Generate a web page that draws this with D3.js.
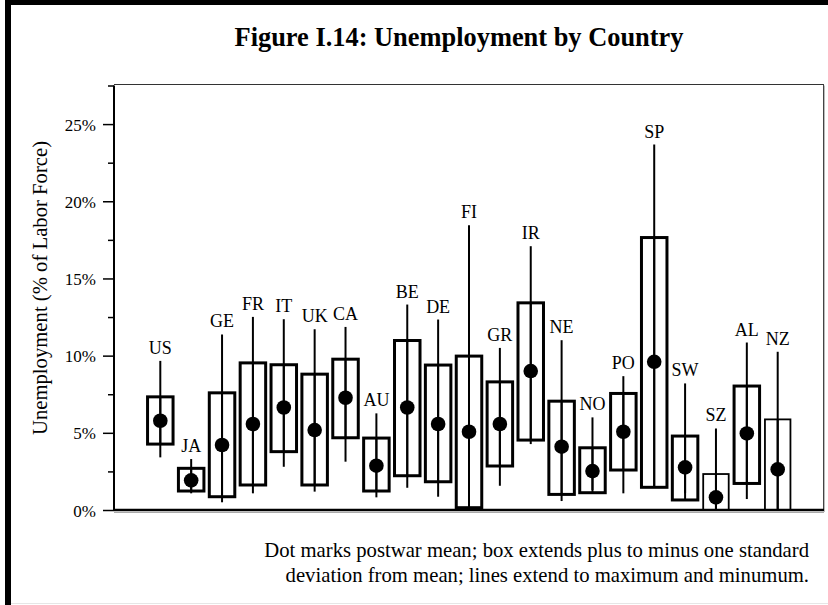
<!DOCTYPE html>
<html>
<head>
<meta charset="utf-8">
<script src="https://cdn.jsdelivr.net/npm/d3@7"></script>
<style>
  html, body { margin: 0; padding: 0; background: #fff; }
  svg { display: block; }
  text { font-family: "Liberation Serif", "Times New Roman", serif; fill: #000; }
</style>
</head>
<body>
<script>
// ---- data ----
const countries = ["US","JA","GE","FR","IT","UK","CA","AU","BE","DE","FI","GR","IR","NE","NO","PO","SP","SW","SZ","AL","NZ"];
const means   = [5.78,1.92,4.21,5.57,6.64,5.18,7.27,2.87,6.64,5.57,5.07,5.57,9.00,4.10,2.52,5.07,9.60,2.76,0.82,4.96,2.63];
const boxHigh = [7.33,2.70,7.59,9.53,9.41,8.80,9.77,4.66,10.98,9.39,9.97,8.30,13.42,7.05,4.03,7.55,17.65,4.79,2.33,8.03,5.87];
const boxLow  = [4.27,1.23,0.86,1.62,3.78,1.62,4.68,1.23,2.22,1.83,0.15,2.85,4.53,1.01,1.12,2.59,1.47,0.65,-0.69,1.72,-0.61];
const maxima  = [9.66,3.30,11.37,12.51,12.36,11.71,11.86,6.26,13.31,12.34,18.45,10.50,17.09,11.00,6.00,8.67,23.67,8.20,5.28,10.85,10.25];
const minima  = [3.41,1.08,0.50,1.08,2.80,1.19,3.13,0.82,1.44,0.86,0.50,1.57,4.27,0.58,1.29,1.08,1.47,1.08,0.00,0.71,0.00];
const majorTicks = [0,5,10,15,20,25];
const minorTicks = [2.5,7.5,12.5,17.5,22.5,27.5];
const titleText = "Figure I.14: Unemployment by Country";
const yTitle = "Unemployment (% of Labor Force)";
const noteLines = ["Dot marks postwar mean; box extends plus to minus one standard",
                   "deviation from mean; lines extend to maximum and minumum."];

const rows = countries.map((c,i)=>({c, mean:means[i], hi:boxHigh[i], lo:boxLow[i], max:maxima[i], min:minima[i]}));

const W = 828, H = 605;
const L = 114, R = 824, T = 84.5, B = 510;

const svg = d3.select("body").append("svg").attr("width", W).attr("height", H);

// outer frame
svg.append("rect").attr("x",0).attr("y",0).attr("width",W).attr("height",H).attr("fill","#fff");
svg.append("rect").attr("x",5).attr("y",0).attr("width",6).attr("height",H).attr("fill","#000");
svg.append("rect").attr("x",5).attr("y",0).attr("width",W-5).attr("height",5).attr("fill","#000");
svg.append("line").attr("x1",11).attr("x2",W).attr("y1",603.5).attr("y2",603.5).attr("stroke","#e6e6e6").attr("stroke-width",1);

const x = d3.scalePoint().domain(countries).range([L, R]).padding(1.5);
const y = d3.scaleLinear().domain([0, 27.5]).range([B, 85.5]);
const yc = v => y(Math.max(0, v));
const boxW = 25.5;

// title
svg.append("text").attr("x", 459).attr("y", 46).attr("text-anchor","middle")
  .attr("font-weight","bold").attr("font-size", 26.4).text(titleText);

// plot frame (top & right)
svg.append("line").attr("x1",L).attr("x2",R).attr("y1",T).attr("y2",T).attr("stroke","#333").attr("stroke-width",1);
svg.append("line").attr("x1",R-0.5).attr("x2",R-0.5).attr("y1",T).attr("y2",B).attr("stroke","#444").attr("stroke-width",1);
svg.append("line").attr("x1",R+0.5).attr("x2",R+0.5).attr("y1",T+1).attr("y2",B+2).attr("stroke","#bbb").attr("stroke-width",1);

// y axis
const yAxisMajor = d3.axisLeft(y).tickValues(majorTicks).tickSize(11).tickPadding(7).tickFormat(d => d + "%");
const gY = svg.append("g").attr("transform", `translate(${L},0)`).call(yAxisMajor);
gY.select(".domain").remove();
gY.selectAll(".tick line").attr("stroke","#000").attr("stroke-width",1.5);
gY.selectAll(".tick text").attr("font-family","Liberation Serif").attr("font-size",17).attr("fill","#000").attr("dy","0.36em");
const gYm = svg.append("g").attr("transform", `translate(${L},0)`)
  .call(d3.axisLeft(y).tickValues(minorTicks).tickSize(6).tickFormat(""));
gYm.select(".domain").remove();
gYm.selectAll(".tick line").attr("stroke","#000").attr("stroke-width",1.5);
svg.append("line").attr("x1",L).attr("x2",L).attr("y1",y(27.5)).attr("y2",B+1).attr("stroke","#000").attr("stroke-width",2);

// y title
svg.append("text").attr("transform", `translate(47,288) rotate(-90)`).attr("text-anchor","middle")
  .attr("font-size",20.7).text(yTitle);

// boxes
const g = svg.append("g");
const grp = g.selectAll("g.item").data(rows).join("g").attr("class","item");
grp.append("line")
  .attr("x1", d=>x(d.c)).attr("x2", d=>x(d.c))
  .attr("y1", d=>yc(d.max)).attr("y2", d=>yc(d.min))
  .attr("stroke","#000").attr("stroke-width",2);
grp.append("rect")
  .attr("x", d=>x(d.c)-boxW/2).attr("width", boxW)
  .attr("y", d=>yc(d.hi)).attr("height", d=>yc(d.lo)-yc(d.hi))
  .attr("fill","none").attr("stroke","#000")
  .attr("stroke-width", d => d.lo < 0 ? 1.8 : 3);
grp.append("line")
  .attr("x1", d=>x(d.c)).attr("x2", d=>x(d.c))
  .attr("y1", d=>yc(d.hi)).attr("y2", d=>yc(d.lo))
  .attr("stroke","#000").attr("stroke-width",2);
grp.append("circle")
  .attr("cx", d=>x(d.c)).attr("cy", d=>y(d.mean)).attr("r", 7.3).attr("fill","#000");
grp.append("text")
  .attr("x", d=>x(d.c)).attr("y", d=>yc(d.max)-7).attr("text-anchor","middle")
  .attr("font-size",18).text(d=>d.c);

// x axis baseline
svg.append("line").attr("x1",L).attr("x2",R).attr("y1",B+2.5).attr("y2",B+2.5).attr("stroke","#aaa").attr("stroke-width",1);
svg.append("line").attr("x1",L).attr("x2",R).attr("y1",B).attr("y2",B).attr("stroke","#000").attr("stroke-width",2.5);

// note
svg.append("g").selectAll("text").data(noteLines).join("text")
  .attr("x", 809).attr("y", (d,i)=>557 + i*25).attr("text-anchor","end")
  .attr("font-size",20.7).text(d=>d);
</script>
</body>
</html>
